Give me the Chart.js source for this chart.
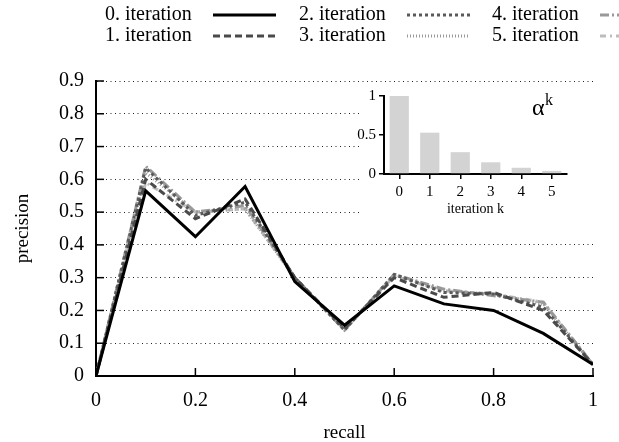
<!DOCTYPE html>
<html>
<head>
<meta charset="utf-8">
<script src="https://cdn.jsdelivr.net/npm/chart.js@4"></script>
<style>
  html, body { margin: 0; padding: 0; background: #fff; }
  #wrap { position: relative; width: 619px; height: 442px; }
  #main { position: absolute; left: 0; top: 0; }
  #inset { position: absolute; left: 350px; top: 84px; }
</style>
</head>
<body>
<div id="wrap">
  <canvas id="main" width="619" height="442"></canvas>
  <canvas id="inset" width="243" height="134"></canvas>
</div>
<script>
// Data -----------------------------------------------------------------------------------

var RECALL = [0, 0.1, 0.2, 0.3, 0.4, 0.5, 0.6, 0.7, 0.8, 0.9, 1.0];

var ITER_0 = [0, 0.565, 0.425, 0.578, 0.288, 0.155, 0.275, 0.22, 0.20, 0.13, 0.035];
var ITER_1 = [0, 0.60, 0.48, 0.54, 0.30, 0.145, 0.30, 0.24, 0.255, 0.20, 0.035];
var ITER_2 = [0, 0.635, 0.49, 0.53, 0.30, 0.14, 0.31, 0.255, 0.25, 0.21, 0.035];
var ITER_3 = [0, 0.62, 0.50, 0.51, 0.30, 0.14, 0.31, 0.26, 0.25, 0.22, 0.035];
var ITER_4 = [0, 0.64, 0.50, 0.52, 0.30, 0.14, 0.31, 0.265, 0.245, 0.225, 0.035];
var ITER_5 = [0, 0.59, 0.50, 0.51, 0.30, 0.14, 0.305, 0.26, 0.25, 0.225, 0.035];

var SERIES_LABELS = ['0. iteration', '1. iteration', '2. iteration',
                     '3. iteration', '4. iteration', '5. iteration'];

var INSET_K = ['0', '1', '2', '3', '4', '5'];
var INSET_ALPHA_K = [1.0, 0.53, 0.28, 0.15, 0.08, 0.04];

// Styles ---------------------------------------------------------------------------------

var FONT = '"Liberation Serif", "Times New Roman", serif';
var SERIES_STYLE = [
    { color: '#000000', dash: [] },
    { color: '#4a4a4a', dash: [7, 4] },
    { color: '#5a5a5a', dash: [3, 3] },
    { color: '#9a9a9a', dash: [1, 2] },
    { color: '#999999', dash: [9, 3, 2, 3] },
    { color: '#bdbdbd', dash: [6, 4, 2, 4] }
];

function toPoints(ys) {
    return ys.map(function (y, i) { return { x: RECALL[i], y: y }; });
}

var seriesValues = [ITER_0, ITER_1, ITER_2, ITER_3, ITER_4, ITER_5];
var datasets = seriesValues.map(function (ys, i) {
    return {
        label: SERIES_LABELS[i],
        data: toPoints(ys),
        borderColor: SERIES_STYLE[i].color,
        borderDash: SERIES_STYLE[i].dash,
        borderWidth: 3,
        pointRadius: 0,
        tension: 0,
        fill: false
    };
});

// Plugins --------------------------------------------------------------------------------

var innerTicks = {
    id: 'innerTicks',
    afterDatasetsDraw: function (chart) {
        var ctx = chart.ctx, a = chart.chartArea;
        ctx.save();
        ctx.strokeStyle = '#000';
        ctx.lineWidth = 1.5;
        ctx.setLineDash([]);
        chart.scales.y.ticks.forEach(function (t) {
            var py = chart.scales.y.getPixelForValue(t.value);
            ctx.beginPath(); ctx.moveTo(a.left, py); ctx.lineTo(a.left + 8, py); ctx.stroke();
        });
        chart.scales.x.ticks.forEach(function (t) {
            var px = chart.scales.x.getPixelForValue(t.value);
            ctx.beginPath(); ctx.moveTo(px, a.bottom); ctx.lineTo(px, a.bottom - 8); ctx.stroke();
        });
        ctx.restore();
    }
};

var sideLegend = {
    id: 'sideLegend',
    afterDraw: function (chart) {
        var ctx = chart.ctx;
        var cols = [105, 299, 492], rows = [15, 36];
        ctx.save();
        ctx.font = '20px ' + FONT;
        ctx.textBaseline = 'middle';
        ctx.textAlign = 'left';
        chart.data.datasets.forEach(function (ds, i) {
            var x = cols[Math.floor(i / 2)], y = rows[i % 2];
            ctx.fillStyle = '#000';
            ctx.fillText(ds.label, x, y);
            ctx.strokeStyle = ds.borderColor;
            ctx.lineWidth = 3;
            ctx.setLineDash(ds.borderDash);
            ctx.beginPath(); ctx.moveTo(x + 108, y); ctx.lineTo(x + 171, y); ctx.stroke();
        });
        ctx.restore();
    }
};

// Main chart -----------------------------------------------------------------------------

new Chart(document.getElementById('main').getContext('2d'), {
    type: 'line',
    data: { datasets: datasets },
    plugins: [innerTicks, sideLegend],
    options: {
        responsive: false,
        animation: false,
        layout: { padding: { top: 81, right: 26, left: 0, bottom: 0 } },
        plugins: { legend: { display: false }, tooltip: { enabled: false } },
        scales: {
            x: {
                type: 'linear', min: 0, max: 1,
                afterFit: function (s) { s.height = 66; },
                ticks: {
                    stepSize: 0.2, color: '#000', padding: 13,
                    font: { family: FONT, size: 20 },
                    callback: function (v) { return String(+v.toFixed(1)); }
                },
                grid: { drawOnChartArea: false, drawTicks: false },
                border: { display: true, color: '#000', width: 2 },
                title: { display: true, text: 'recall', color: '#000',
                         font: { family: FONT, size: 19 }, padding: { top: 0, bottom: -2 } }
            },
            y: {
                min: 0, max: 0.9,
                afterFit: function (s) { s.width = 96; },
                ticks: {
                    stepSize: 0.1, color: '#000', padding: 12,
                    font: { family: FONT, size: 20 },
                    callback: function (v) { return String(+v.toFixed(1)); }
                },
                grid: {
                    drawTicks: false,
                    color: function (c) { return c.tick && c.tick.value === 0 ? 'rgba(0,0,0,0)' : '#222'; },
                    lineWidth: 1
                },
                border: { display: true, color: '#000', width: 2, dash: [1, 3.5] },
                title: { display: true, text: 'precision', color: '#000',
                         font: { family: FONT, size: 19 }, padding: { top: 12, bottom: 0 } }
            }
        }
    }
});

// Inset chart ----------------------------------------------------------------------------

var insetBackground = {
    id: 'insetBackground',
    beforeDraw: function (chart) {
        var ctx = chart.ctx;
        ctx.save();
        ctx.fillStyle = '#fff';
        ctx.fillRect(10, 0, chart.width - 10, chart.height);
        ctx.restore();
    },
    afterDraw: function (chart) {
        var ctx = chart.ctx, a = chart.chartArea;
        ctx.save();
        ctx.fillStyle = '#000';
        ctx.textBaseline = 'alphabetic';
        ctx.font = '24px ' + FONT;
        ctx.fillText('\u03b1', a.right - 35, a.top + 19);
        ctx.font = '16px ' + FONT;
        ctx.fillText('k', a.right - 22, a.top + 9);
        ctx.restore();
    }
};

new Chart(document.getElementById('inset').getContext('2d'), {
    type: 'bar',
    data: {
        labels: INSET_K,
        datasets: [{ data: INSET_ALPHA_K, backgroundColor: '#d3d3d3',
                     categoryPercentage: 1, barPercentage: 0.63 }]
    },
    plugins: [insetBackground],
    options: {
        responsive: false,
        animation: false,
        layout: { padding: { top: 8, right: 26, left: 0, bottom: 0 } },
        plugins: { legend: { display: false }, tooltip: { enabled: false } },
        scales: {
            x: {
                afterFit: function (s) { s.height = 44; },
                ticks: { color: '#000', padding: 4, font: { family: FONT, size: 15 } },
                grid: { drawOnChartArea: false, tickLength: 5, color: '#000', lineWidth: 1.5, offset: false },
                border: { display: true, color: '#000', width: 2 },
                title: { display: true, text: 'iteration k', color: '#000',
                         font: { family: FONT, size: 14 }, padding: { top: 0, bottom: 0 } }
            },
            y: {
                min: 0, max: 1,
                afterFit: function (s) { s.width = 34; },
                ticks: { stepSize: 0.5, color: '#000', padding: 3, font: { family: FONT, size: 15 },
                         callback: function (v) { return String(v); } },
                grid: { drawOnChartArea: false, tickLength: 5, color: '#000', lineWidth: 1.5 },
                border: { display: true, color: '#000', width: 2 }
            }
        }
    }
});
</script>
</body>
</html>
